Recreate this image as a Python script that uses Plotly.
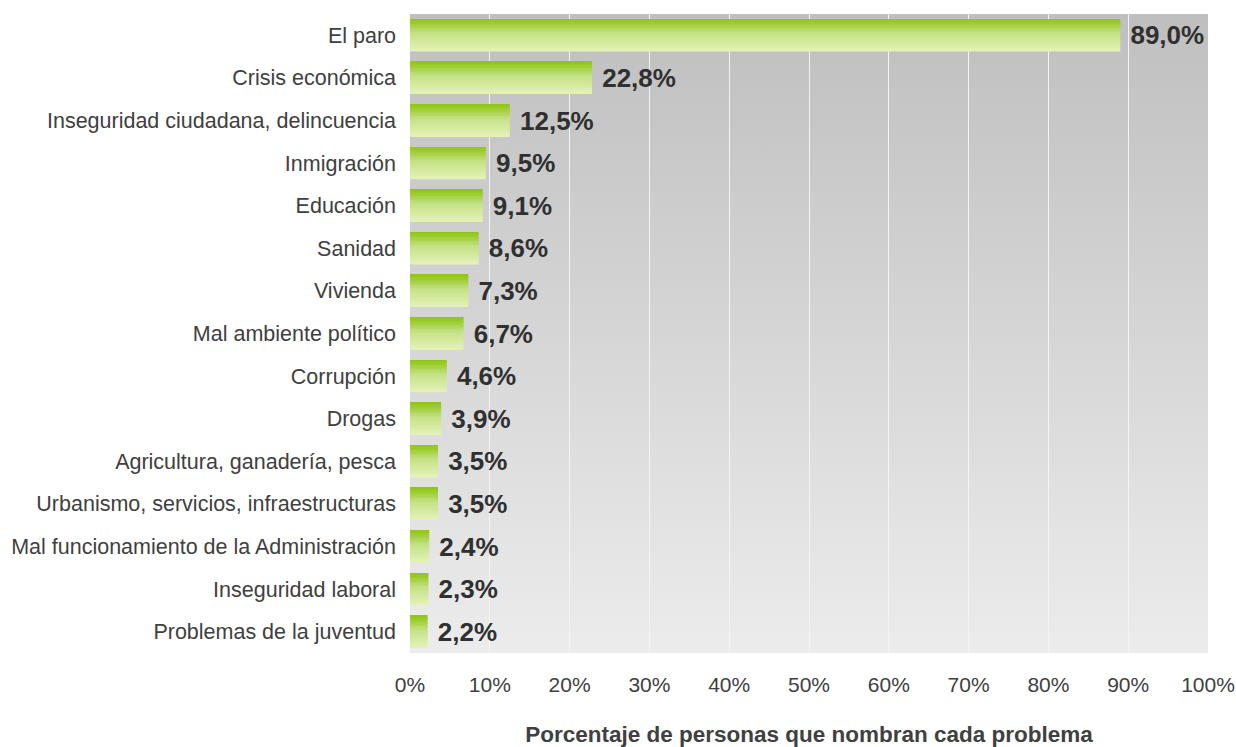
import base64
import plotly.graph_objects as go

categories = [
    "El paro",
    "Crisis económica",
    "Inseguridad ciudadana, delincuencia",
    "Inmigración",
    "Educación",
    "Sanidad",
    "Vivienda",
    "Mal ambiente político",
    "Corrupción",
    "Drogas",
    "Agricultura, ganadería, pesca",
    "Urbanismo, servicios, infraestructuras",
    "Mal funcionamiento de la Administración",
    "Inseguridad laboral",
    "Problemas de la juventud",
]
values = [89.0, 22.8, 12.5, 9.5, 9.1, 8.6, 7.3, 6.7, 4.6, 3.9, 3.5, 3.5, 2.4, 2.3, 2.2]
x_ticks = [0, 10, 20, 30, 40, 50, 60, 70, 80, 90, 100]
x_ticklabels = [f"{t}%" for t in x_ticks]
x_title = "Porcentaje de personas que nombran cada problema"

labels = ["\u00a0" + f"{v:.1f}%".replace(".", ",") for v in values]

FONT = "Arial, Liberation Sans, sans-serif"
BAR_W = 0.75
N_STRIPES = 24


def hex2rgb(h):
    h = h.lstrip("#")
    return [int(h[i:i + 2], 16) for i in (0, 2, 4)]


stops = [(0.0, hex2rgb("#90c512")), (0.15, hex2rgb("#9dcc30")),
         (0.45, hex2rgb("#c3e184")), (1.0, hex2rgb("#e4f2b8"))]


def grad(t):
    for (t0, c0), (t1, c1) in zip(stops[:-1], stops[1:]):
        if t <= t1:
            f = (t - t0) / (t1 - t0)
            c = [round(a + (b - a) * f) for a, b in zip(c0, c1)]
            return f"rgb({c[0]},{c[1]},{c[2]})"
    c = stops[-1][1]
    return f"rgb({c[0]},{c[1]},{c[2]})"


fig = go.Figure()

# main bar trace (carries the data labels)
fig.add_trace(go.Bar(
    x=values, y=categories, orientation="h", width=BAR_W,
    marker=dict(color="rgba(0,0,0,0)", line=dict(width=0)),
    text=labels, textposition="outside", cliponaxis=False,
    textfont=dict(family=FONT, size=26, color="#303030", weight="bold"),
    hoverinfo="skip", showlegend=False,
))

# gradient stripes stacked across bar thickness
sw = BAR_W / N_STRIPES
for k in range(N_STRIPES):
    fig.add_trace(go.Bar(
        x=values, y=categories, orientation="h",
        width=sw * 1.08, offset=-BAR_W / 2 + k * sw,
        marker=dict(color=grad((k + 0.5) / N_STRIPES), line=dict(width=0)),
        hoverinfo="skip", showlegend=False,
    ))

svg = (
    '<svg xmlns="http://www.w3.org/2000/svg" width="100" height="100" preserveAspectRatio="none">'
    '<defs><linearGradient id="g" x1="0" y1="0" x2="0" y2="1">'
    '<stop offset="0" stop-color="#bfbfbf"/><stop offset="1" stop-color="#ececec"/>'
    '</linearGradient></defs><rect width="100" height="100" fill="url(#g)"/></svg>'
)
src = "data:image/svg+xml;base64," + base64.b64encode(svg.encode()).decode()

fig.update_layout(
    width=1236, height=747,
    margin=dict(l=410, r=28, t=14, b=94),
    paper_bgcolor="white", plot_bgcolor="rgba(0,0,0,0)",
    barmode="overlay", bargap=0.25,
    font=dict(family=FONT, size=21, color="#404040"),
    images=[dict(source=src, xref="x domain", yref="y domain", x=0, y=1,
                 sizex=1, sizey=1, sizing="stretch", layer="below",
                 xanchor="left", yanchor="top")],
    xaxis=dict(
        range=[0, 100], tickvals=x_ticks, ticktext=x_ticklabels,
        showgrid=True, gridcolor="#f4f4f4", gridwidth=1.2, zeroline=False,
        showline=False, ticks="", ticklabelstandoff=17, automargin=False,
        tickfont=dict(family=FONT, size=21, color="#404040"),
        title=dict(text=x_title, standoff=40,
                   font=dict(family=FONT, size=22.5, color="#404040", weight="bold")),
    ),
    yaxis=dict(
        autorange="reversed", showgrid=False, zeroline=False, showline=False,
        ticks="", ticklabelstandoff=13, automargin=False,
        tickfont=dict(family=FONT, size=21.5, color="#404040"),
    ),
)

fig.write_html("out.html", config={"displayModeBar": False},
               post_script="document.body.style.margin='0';window.dispatchEvent(new Event('resize'));")
